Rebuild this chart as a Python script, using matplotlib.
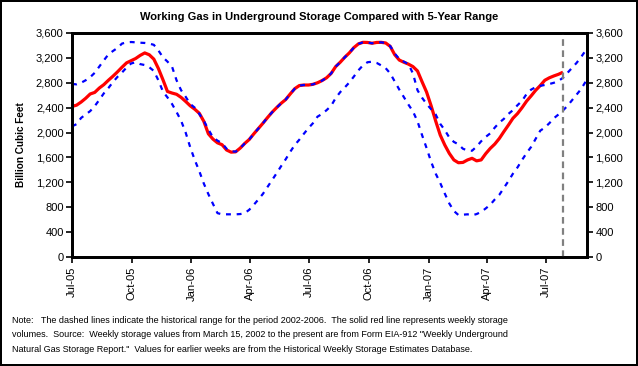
import pandas as pd
import matplotlib
matplotlib.use("Agg")
import matplotlib.pyplot as plt
import matplotlib.dates as mdates
from matplotlib.ticker import FuncFormatter

plt.rcParams['font.family'] = ['Liberation Sans', 'DejaVu Sans']

# weekly storage, Bcf (weeks from Jul 1 2005)
storage = [2420, 2440, 2490, 2550, 2620, 2645, 2715, 2770, 2840, 2905,
           2975, 3050, 3120, 3155, 3190, 3240, 3280, 3250, 3180, 3030,
           2850, 2660, 2635, 2615, 2565, 2500, 2430, 2375, 2310, 2180,
           1980, 1895, 1835, 1805, 1720, 1685, 1690, 1750, 1825, 1890,
           1980, 2065, 2150, 2240, 2325, 2400, 2470, 2530, 2620, 2705,
           2755, 2764, 2764, 2775, 2800, 2835, 2880, 2950, 3060, 3130,
           3210, 3280, 3365, 3425, 3450, 3448, 3435, 3448, 3450, 3440,
           3385, 3250, 3165, 3130, 3100, 3060, 2990, 2817, 2650, 2430,
           2185, 1960, 1800, 1665, 1560, 1515, 1520, 1560, 1586, 1545,
           1560, 1660, 1745, 1815, 1905, 2015, 2120, 2230, 2305, 2400,
           2505, 2590, 2680, 2755, 2840, 2880, 2910, 2936, 2970]

# 5-year range (2002-2006), upper and lower
range_max = [2780, 2775, 2800, 2840, 2890, 2960, 3060, 3160, 3255, 3310,
             3360, 3430, 3450, 3455, 3450, 3444, 3440, 3430, 3410, 3320,
             3210, 3140, 3060, 2840, 2680, 2575, 2460, 2400, 2300, 2190,
             2050, 1925, 1870, 1830, 1740, 1700, 1692, 1750, 1825, 1890,
             1980, 2065, 2150, 2240, 2325, 2400, 2470, 2530, 2620, 2705,
             2755, 2764, 2764, 2775, 2800, 2835, 2880, 2950, 3060, 3130,
             3210, 3280, 3365, 3425, 3450, 3448, 3435, 3448, 3450, 3440,
             3390, 3270, 3180, 3140, 3100, 2950, 2680, 2560, 2460, 2375,
             2290, 2140, 2040, 1920, 1850, 1810, 1740, 1712, 1708, 1775,
             1860, 1930, 1987, 2080, 2160, 2220, 2300, 2360, 2440, 2510,
             2620, 2690, 2730, 2750, 2765, 2780, 2800, 2830, 2880, 2960,
             3040, 3120, 3215, 3320]

range_min = [2100, 2135, 2235, 2290, 2345, 2425, 2525, 2630, 2715, 2810,
             2895, 2965, 3045, 3110, 3130, 3100, 3085, 3050, 2990, 2840,
             2660, 2565, 2460, 2330, 2190, 2000, 1765, 1560, 1380, 1180,
             1010, 855, 705, 686, 686, 686, 686, 690, 705, 760,
             840, 925, 1015, 1125, 1235, 1345, 1460, 1570, 1690, 1800,
             1885, 1980, 2070, 2150, 2255, 2300, 2360, 2430, 2555, 2650,
             2725, 2805, 2900, 3000, 3080, 3130, 3139, 3120, 3080, 3035,
             2950, 2820, 2690, 2570, 2450, 2340, 2180, 1960, 1750, 1530,
             1340, 1190, 1020, 860, 740, 675, 680, 686, 670, 690,
             725, 780, 840, 925, 1000, 1110, 1220, 1340, 1440, 1560,
             1670, 1770, 1900, 2030, 2080, 2150, 2230, 2290, 2355, 2430,
             2520, 2610, 2700, 2820]

range_weeks = pd.date_range('2005-07-01', periods=len(range_max), freq='7D')
storage_weeks = range_weeks[:len(storage)]
last_week = storage_weeks[-1]

note = ('Note:   The dashed lines indicate the historical range for the period 2002-2006.  '
        'The solid red line represents weekly storage\n'
        'volumes.  Source:  Weekly storage values from March 15, 2002 to the present are from '
        'Form EIA-912 "Weekly Underground\n'
        'Natural Gas Storage Report."  Values for earlier weeks are from the Historical Weekly '
        'Storage Estimates Database.')

fig = plt.figure(figsize=(6.38, 3.66), dpi=100, facecolor='white',
                 edgecolor='black', linewidth=1.5)
ax = fig.add_axes([72 / 638, 1 - 257 / 366, 515 / 638, 224 / 366])

# red first so the blue dashes show on top of it, like the original
ax.plot(storage_weeks, storage, color='#ff0000', lw=2.3, solid_capstyle='butt', zorder=2)
ax.plot(range_weeks, range_max, color='#0000ff', lw=1.6, ls=(0, (2.2, 2.6)), zorder=3)
ax.plot(range_weeks, range_min, color='#0000ff', lw=1.6, ls=(0, (2.2, 2.6)), zorder=3)
ax.axvline(last_week, color='#808080', lw=1.6, ls=(0, (3, 2)), zorder=4)

ax.set_xlim(pd.Timestamp('2005-07-01'), pd.Timestamp('2007-09-02'))
ax.set_ylim(0, 3600)
ax.set_yticks(range(0, 3601, 400))
fmt = FuncFormatter(lambda v, p: f'{int(v):,}')
ax.yaxis.set_major_formatter(fmt)

ax.xaxis.set_major_locator(mdates.MonthLocator(bymonth=[1, 4, 7, 10]))
ax.xaxis.set_major_formatter(mdates.DateFormatter('%b-%y'))
plt.setp(ax.get_xticklabels(), rotation=90, fontsize=8)
ax.tick_params(axis='y', labelsize=8, direction='out', length=4, width=1.2, pad=2)
ax.tick_params(axis='x', direction='out', length=4, width=1.2, pad=3)
for s in ax.spines.values():
    s.set_linewidth(2)

ax2 = ax.twinx()
ax2.set_ylim(0, 3600)
ax2.set_yticks(range(0, 3601, 400))
ax2.yaxis.set_major_formatter(fmt)
ax2.tick_params(axis='y', labelsize=8, direction='out', length=4, width=1.2, pad=2)
for s in ax2.spines.values():
    s.set_linewidth(2)

ax.set_ylabel('Billion Cubic Feet', fontsize=7.2, fontweight='bold', labelpad=7)
fig.text(0.5, 1 - 17 / 366, 'Working Gas in Underground Storage Compared with 5-Year Range',
         ha='center', va='center', fontsize=8, fontweight='bold')
fig.text(12 / 638, 1 - 316 / 366, note, ha='left', va='top', fontsize=6.45,
         linespacing=1.75)

fig.savefig('out.png', dpi=100, facecolor='white', edgecolor=fig.get_edgecolor())
